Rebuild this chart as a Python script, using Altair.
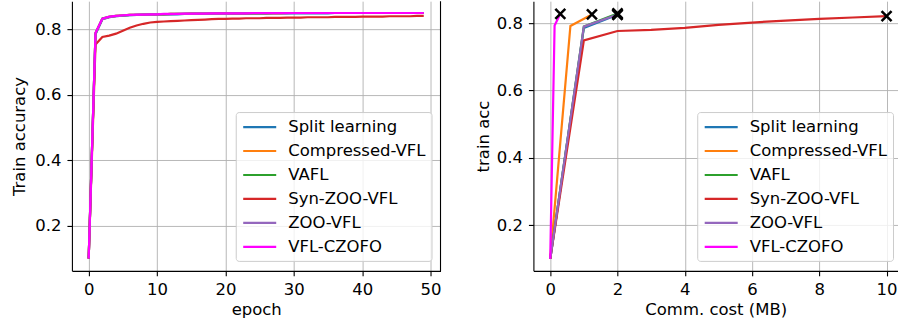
import altair as alt
import pandas as pd

methods = ["Split learning", "Compressed-VFL", "VAFL", "Syn-ZOO-VFL", "ZOO-VFL", "VFL-CZOFO"]
colors = ["#1f77b4", "#ff7f0e", "#2ca02c", "#d62728", "#9467bd", "#ff00ff"]

epochs = list(range(50))

acc_split = [0.100, 0.784, 0.830, 0.836, 0.839, 0.841, 0.842, 0.843, 0.843, 0.844,
             0.844, 0.845, 0.845, 0.845, 0.846, 0.846, 0.846, 0.846, 0.847, 0.847,
             0.847, 0.847, 0.847, 0.847, 0.848, 0.848, 0.848, 0.848, 0.848, 0.848,
             0.848, 0.848, 0.848, 0.848, 0.848, 0.848, 0.849, 0.849, 0.849, 0.849,
             0.849, 0.849, 0.849, 0.849, 0.849, 0.849, 0.849, 0.849, 0.849, 0.849]
acc_comp = [0.100, 0.788, 0.831, 0.837, 0.840, 0.842, 0.843, 0.843, 0.844, 0.844,
            0.845, 0.845, 0.846, 0.846, 0.846, 0.847, 0.847, 0.847, 0.847, 0.847,
            0.848, 0.848, 0.848, 0.848, 0.848, 0.848, 0.848, 0.848, 0.848, 0.849,
            0.849, 0.849, 0.849, 0.849, 0.849, 0.849, 0.849, 0.849, 0.849, 0.849,
            0.849, 0.849, 0.849, 0.849, 0.849, 0.849, 0.849, 0.849, 0.849, 0.849]
acc_vafl = [0.100, 0.787, 0.832, 0.837, 0.840, 0.841, 0.843, 0.843, 0.844, 0.845,
            0.845, 0.845, 0.846, 0.846, 0.846, 0.847, 0.847, 0.847, 0.847, 0.848,
            0.848, 0.848, 0.848, 0.848, 0.848, 0.848, 0.848, 0.849, 0.849, 0.849,
            0.849, 0.849, 0.849, 0.849, 0.849, 0.849, 0.849, 0.849, 0.849, 0.849,
            0.849, 0.849, 0.849, 0.849, 0.849, 0.849, 0.849, 0.849, 0.849, 0.849]
acc_syn = [0.100, 0.753, 0.776, 0.780, 0.786, 0.795, 0.804, 0.811, 0.816, 0.820,
           0.822, 0.823, 0.824, 0.825, 0.826, 0.827, 0.828, 0.829, 0.830, 0.831,
           0.831, 0.832, 0.832, 0.833, 0.833, 0.833, 0.834, 0.834, 0.834, 0.835,
           0.835, 0.835, 0.836, 0.836, 0.836, 0.836, 0.837, 0.837, 0.837, 0.837,
           0.838, 0.838, 0.838, 0.838, 0.839, 0.839, 0.839, 0.839, 0.840, 0.840]
acc_zoo = [0.100, 0.786, 0.830, 0.836, 0.839, 0.841, 0.842, 0.843, 0.844, 0.844,
           0.845, 0.845, 0.845, 0.846, 0.846, 0.846, 0.847, 0.847, 0.847, 0.847,
           0.847, 0.848, 0.848, 0.848, 0.848, 0.848, 0.848, 0.848, 0.848, 0.848,
           0.849, 0.849, 0.849, 0.849, 0.849, 0.849, 0.849, 0.849, 0.849, 0.849,
           0.849, 0.849, 0.849, 0.849, 0.849, 0.849, 0.849, 0.849, 0.849, 0.849]
acc_czofo = [0.100, 0.789, 0.832, 0.838, 0.840, 0.842, 0.843, 0.844, 0.844, 0.845,
             0.845, 0.846, 0.846, 0.846, 0.847, 0.847, 0.847, 0.847, 0.848, 0.848,
             0.848, 0.848, 0.848, 0.848, 0.849, 0.849, 0.849, 0.849, 0.849, 0.849,
             0.849, 0.849, 0.849, 0.849, 0.849, 0.849, 0.849, 0.849, 0.849, 0.849,
             0.849, 0.849, 0.849, 0.849, 0.849, 0.849, 0.849, 0.849, 0.849, 0.849]

# communication cost (MB) vs train accuracy
cost_split = [0.0, 1.0, 2.0]
accc_split = [0.100, 0.786, 0.825]
cost_comp = [0.0, 0.6, 1.24]
accc_comp = [0.100, 0.792, 0.826]
cost_vafl = [0.0, 1.0, 2.0]
accc_vafl = [0.100, 0.790, 0.829]
cost_syn = [0.0, 1.0, 2.0, 3.0, 4.0, 5.0, 6.0, 7.0, 8.0, 9.0, 10.0]
accc_syn = [0.100, 0.749, 0.777, 0.780, 0.786, 0.795, 0.802, 0.808, 0.813, 0.817, 0.821]
cost_zoo = [0.0, 1.0, 2.0]
accc_zoo = [0.100, 0.790, 0.826]
cost_czofo = [0.0, 0.13, 0.3]
accc_czofo = [0.100, 0.793, 0.828]

y_ticks = [0.2, 0.4, 0.6, 0.8]
x_ticks_left = [0, 10, 20, 30, 40, 50]
x_ticks_right = [0, 2, 4, 6, 8, 10]

FONT = "DejaVu Sans"
FS = 16.5

left_series = [acc_split, acc_comp, acc_vafl, acc_syn, acc_zoo, acc_czofo]
rows = []
for order, (m, vals) in enumerate(zip(methods, left_series)):
    for e, v in zip(epochs, vals):
        rows.append({"method": m, "epoch": e, "acc": v, "k": order})
left_df = pd.DataFrame(rows)

right_costs = [cost_split, cost_comp, cost_vafl, cost_syn, cost_zoo, cost_czofo]
right_accs = [accc_split, accc_comp, accc_vafl, accc_syn, accc_zoo, accc_czofo]
rows = []
marks = []
for order, (m, cs, vs) in enumerate(zip(methods, right_costs, right_accs)):
    for c, v in zip(cs, vs):
        rows.append({"method": m, "cost": c, "acc": v, "k": order})
    marks.append({"method": m, "cost": cs[-1], "acc": vs[-1]})
right_df = pd.DataFrame(rows)
marker_df = pd.DataFrame(marks)

color_scale = alt.Scale(domain=methods, range=colors)


def make_legend():
    return alt.Legend(
        orient="none", legendX=164, legendY=111, title=None, direction="vertical",
        symbolType="M-0.94,0L3.19,0", symbolSize=256, symbolStrokeWidth=2.2,
        labelFontSize=FS, labelFont=FONT, labelColor="black", labelOffset=28,
        rowPadding=6.0, padding=5.5, strokeColor="#cccccc",
        fillColor="rgba(255,255,255,0.8)", cornerRadius=3, labelLimit=300,
    )


def y_axis(title, tp):
    return alt.Axis(title=title, values=y_ticks, format=".1f", titlePadding=tp)


W_L, W_R, H = 369, 365, 270

left_lines = alt.Chart(left_df).mark_line(strokeWidth=2.2).encode(
    x=alt.X("epoch:Q", scale=alt.Scale(domain=[-2.45, 51.45], nice=False, zero=False),
            axis=alt.Axis(title="epoch", values=x_ticks_left, format="d")),
    y=alt.Y("acc:Q", scale=alt.Scale(domain=[0.0625, 0.885], nice=False, zero=False),
            axis=y_axis("Train accuracy", 7)),
    color=alt.Color("method:N", scale=color_scale, legend=make_legend()),
    detail="k:O",
)
frame = alt.Chart(pd.DataFrame({"a": [0]})).mark_rule(color="black", strokeWidth=1.1).encode(
    x=alt.value(W_L), y=alt.value(0), y2=alt.value(H)
)
left = alt.layer(left_lines, frame).properties(width=W_L, height=H)

right_lines = alt.Chart(right_df).mark_line(strokeWidth=2.2).encode(
    x=alt.X("cost:Q", scale=alt.Scale(domain=[-0.5, 10.34], nice=False, zero=False),
            axis=alt.Axis(title="Comm. cost (MB)", values=x_ticks_right, format="d")),
    y=alt.Y("acc:Q", scale=alt.Scale(domain=[0.0644, 0.8655], nice=False, zero=False),
            axis=y_axis("train acc", 5)),
    color=alt.Color("method:N", scale=color_scale, legend=make_legend()),
    detail="k:O",
)
right_marks = alt.Chart(marker_df).mark_point(
    shape="M-1,-1L1,1M-1,1L1,-1", size=100, filled=False, strokeWidth=2.5,
    color="black", opacity=1,
).encode(x="cost:Q", y="acc:Q")
right = alt.layer(right_lines, right_marks).properties(width=W_R, height=H)

chart = alt.hconcat(left, right, spacing=33).resolve_scale(color="independent").resolve_legend(
    color="independent"
).configure(
    font=FONT, padding={"left": 11, "top": 0, "right": 0, "bottom": 0}, background="white"
).configure_view(stroke=None).configure_axis(
    labelFont=FONT, labelFontSize=FS, labelColor="black", titleFont=FONT, titleFontSize=FS,
    titleFontWeight="normal", titleColor="black", tickColor="black", tickSize=5,
    tickWidth=1.1, domainColor="black", domainWidth=1.1, gridColor="#b0b0b0",
    gridWidth=0.9, labelPadding=6, labelFlush=False,
).configure_axisX(titlePadding=3)

chart.save("out.html", embed_options={"renderer": "svg", "actions": False})
